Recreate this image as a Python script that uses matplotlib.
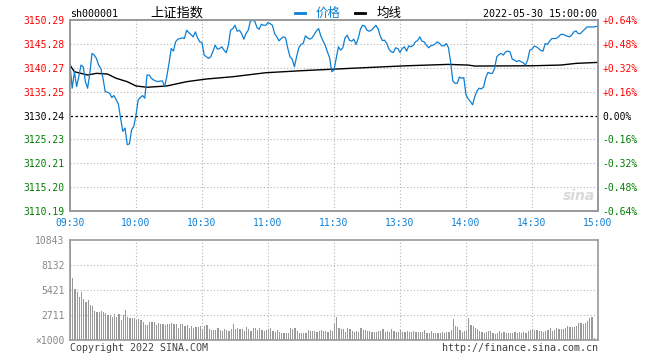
import matplotlib
matplotlib.use("Agg")
from matplotlib import pyplot as plt

prev_close = 3130.24

# one price per minute, 09:30..11:30 then 13:01..15:00
price = [
    3140.83, 3135.96, 3139.44, 3136.31, 3138.39, 3140.83, 3140.48, 3137.35, 3135.96, 3139.09,
    3143.27, 3142.92, 3142.22, 3140.83, 3140.13, 3138.05, 3135.26, 3135.12, 3134.91, 3134.01,
    3134.43, 3133.52, 3132.62, 3129.69, 3126.91, 3127.61, 3124.13, 3124.27, 3127.26, 3127.95,
    3130.39, 3133.52, 3134.01, 3134.43, 3133.87, 3138.74, 3138.74, 3138.05, 3137.70, 3137.49,
    3137.35, 3137.49, 3137.49, 3136.31, 3138.39, 3141.18, 3144.31, 3143.75, 3145.70, 3146.26,
    3146.40, 3146.54, 3146.40, 3148.14, 3147.65, 3147.23, 3146.75, 3147.79, 3146.54, 3145.70,
    3145.56, 3142.92, 3142.57, 3142.22, 3142.57, 3143.75, 3145.01, 3144.17, 3144.31, 3144.66,
    3143.96, 3143.41, 3145.01, 3148.14, 3148.49, 3149.18, 3147.93, 3148.14, 3147.44, 3146.26,
    3147.44, 3148.14, 3150.02, 3150.23, 3150.02, 3148.69, 3148.35, 3149.39, 3149.18, 3149.18,
    3149.74, 3149.53, 3149.18, 3147.44, 3146.75, 3145.91, 3146.40, 3146.75, 3146.54, 3144.31,
    3142.57, 3142.08, 3140.48, 3142.57, 3144.45, 3145.15, 3145.35, 3146.95, 3146.54, 3146.26,
    3146.54, 3147.23, 3148.00, 3148.49, 3146.95, 3145.91, 3145.01, 3143.61, 3142.36, 3139.44,
    3139.79, 3142.22, 3144.66, 3143.96, 3144.45, 3146.54, 3147.09, 3146.05, 3145.84, 3146.26,
    3145.15, 3146.40, 3148.35, 3149.18, 3149.04, 3148.14, 3147.93, 3148.14, 3148.63, 3149.18,
    3148.49, 3146.95, 3145.98, 3146.05, 3145.35, 3144.17, 3143.61, 3143.47, 3144.45, 3144.31,
    3143.47, 3144.31, 3144.66, 3143.75, 3144.87, 3144.66, 3145.01, 3145.70, 3145.98, 3146.75,
    3145.84, 3145.70, 3145.01, 3144.45, 3144.87, 3145.01, 3145.28, 3145.70, 3145.35, 3144.87,
    3144.87, 3145.35, 3144.52, 3141.53, 3137.49, 3137.00, 3137.00, 3138.32, 3138.05, 3138.19,
    3134.57, 3133.73, 3133.17, 3132.48, 3134.22, 3135.40, 3135.96, 3135.82, 3136.24, 3138.19,
    3139.30, 3139.09, 3139.09, 3140.13, 3142.57, 3143.06, 3143.27, 3142.92, 3143.61, 3143.75,
    3143.61, 3142.08, 3141.87, 3141.53, 3141.80, 3141.53, 3141.32, 3140.83, 3141.87, 3143.96,
    3144.17, 3144.80, 3144.66, 3144.31, 3143.89, 3143.75, 3145.35, 3145.15, 3145.84, 3146.40,
    3146.40, 3146.40, 3146.75, 3147.23, 3147.30, 3147.09, 3146.89, 3146.75, 3147.09, 3147.79,
    3148.00, 3147.44, 3147.44, 3147.93, 3148.35, 3148.83, 3148.83, 3148.83, 3148.83, 3148.90,
    3149.04,
]

# average line read at a few minutes
avg_minutes = [0, 2, 8, 12, 17, 21, 26, 30, 35, 44, 53, 62, 74, 89, 105, 118, 133, 153,
               172, 181, 184, 210, 223, 230, 240]
avg_price = [3140.83, 3139.43, 3138.74, 3139.09, 3138.95, 3138.05, 3137.34, 3136.44, 3136.17,
             3136.44, 3137.34, 3137.90, 3138.38, 3139.22, 3139.64, 3139.93, 3140.26, 3140.68,
             3140.97, 3140.83, 3140.62, 3140.68, 3140.83, 3141.18, 3141.39]

# volume, x1000 lots
volume_am = [
    10843,
    6686, 5493, 5240, 4698, 5240, 4445, 4156, 4337, 3795, 3686,
    3144, 3036, 3036, 3144, 3036, 2963, 2711, 2711, 2530, 2819,
    2530, 2819, 2168, 2711, 3253, 2530, 2349, 2349, 2349, 2168,
    2241, 2168, 1988, 1626, 1626, 1952, 1952, 1952, 1626, 1879,
    1735, 1735, 1626, 1735, 1735, 1807, 1735, 1735, 1301, 1735,
    1735, 1518, 1626, 1301, 1518, 1301, 1446, 1446, 1518, 1193,
    1518, 1626, 1193, 1084, 1084, 1084, 1301, 1084, 1012, 1193,
    1084, 1012, 1193, 1735, 1193, 1301, 1193, 1193, 976, 1409,
    1193, 976, 1301, 1301, 1084, 1301, 1084, 1012, 1084, 1193,
    1301, 940, 904, 1084, 831, 795, 795, 723, 795, 1301,
    1193, 1301, 976, 795, 795, 795, 795, 1084, 1012, 1012,
    976, 867, 976, 1084, 940, 940, 867, 1084, 976, 1735,
]
volume_pm = [
    2458, 1337, 1229, 1193, 904, 1337, 1156, 1012, 904, 1012,
    904, 1301, 1084, 1084, 976, 976, 867, 867, 867, 976,
    976, 1193, 904, 976, 867, 1193, 976, 867, 867, 1084,
    904, 867, 976, 867, 867, 976, 867, 867, 867, 867,
    1084, 795, 795, 976, 795, 795, 795, 795, 867, 795,
    867, 867, 1084, 2277, 1518, 1409, 1084, 867, 976, 976,
    2349, 1626, 1518, 1301, 1193, 1012, 867, 795, 904, 976,
    976, 759, 651, 795, 976, 795, 867, 759, 759, 759,
    759, 867, 759, 867, 759, 867, 759, 1012, 1084, 1193,
    1084, 1084, 976, 976, 867, 976, 1084, 1301, 976, 1084,
    1301, 1193, 1193, 1193, 1301, 1518, 1409, 1409, 1409, 1518,
    1843, 1843, 1735, 1843, 2060, 2349, 2458, 217,
]

price_ticks = [3110.19, 3115.20, 3120.21, 3125.23, 3130.24, 3135.25, 3140.27, 3145.28, 3150.29]
pct_labels = ["-0.64%", "-0.48%", "-0.32%", "-0.16%", "0.00%", "+0.16%", "+0.32%", "+0.48%", "+0.64%"]
time_ticks = [0, 30, 60, 90, 120, 150, 180, 210, 240]
time_labels = ["09:30", "10:00", "10:30", "11:00", "11:30", "13:30", "14:00", "14:30", "15:00"]
vol_ticks = [0, 2711, 5421, 8132, 10843]
vol_labels = ["\u00d71000", "2711", "5421", "8132", "10843"]

BLUE = "#0d7fd4"
RED = "#ff0000"
GREEN = "#008000"
GRID = "#b4b4b4"
FRAME = "#999999"
MONO = ["DejaVu Sans Mono", "Noto Sans CJK SC"]

plt.rcParams["font.family"] = MONO

fig = plt.figure(figsize=(6.6, 3.6), dpi=100)
W, H = 660, 360

def box(x0, y0, x1, y1):
    return [x0 / W, 1 - y1 / H, (x1 - x0) / W, (y1 - y0) / H]

ax = fig.add_axes(box(70, 20, 598, 211))
vax = fig.add_axes(box(70, 240, 598, 340))

def label_color(v):
    if abs(v - prev_close) < 0.005:
        return "black"
    return RED if v > prev_close else GREEN

# price panel
minutes = list(range(len(price)))
ax.set_xlim(0, 240)
ax.set_ylim(price_ticks[0], price_ticks[-1])
for t in time_ticks[1:-1]:
    ax.axvline(t, color=GRID, lw=0.8, ls=(0, (1, 2)), zorder=1)
for p in price_ticks[1:-1]:
    if p == prev_close:
        ax.axhline(p, color="black", lw=0.9, ls=(0, (2, 2)), zorder=1)
    else:
        ax.axhline(p, color=GRID, lw=0.8, ls=(0, (1, 2)), zorder=1)
ax.plot(avg_minutes, avg_price, color="black", lw=1.0, zorder=3)
ax.plot(minutes, price, color=BLUE, lw=0.9, zorder=4)

ax.set_yticks(price_ticks)
ax.set_yticklabels([f"{p:.2f}" for p in price_ticks], fontsize=7)
for lbl, p in zip(ax.get_yticklabels(), price_ticks):
    lbl.set_color(label_color(p))
ax.set_xticks(time_ticks)
ax.set_xticklabels(time_labels, fontsize=7, color=BLUE)
ax.tick_params(length=0, pad=4)
ax.tick_params(axis="x", pad=5)

rax = ax.twinx()
rax.set_ylim(price_ticks[0], price_ticks[-1])
rax.set_yticks(price_ticks)
rax.set_yticklabels(pct_labels, fontsize=7)
for lbl, p in zip(rax.get_yticklabels(), price_ticks):
    lbl.set_color(label_color(p))
rax.tick_params(length=0, pad=3)

for a in (ax, rax, vax):
    for s in a.spines.values():
        s.set_color(FRAME)
        s.set_linewidth(1.2)

ax.text(0.995, 0.04, "sina", transform=ax.transAxes, ha="right", va="bottom",
        fontsize=10, fontweight="bold", style="italic", color="#d9d9d9",
        family="DejaVu Sans", zorder=2)

# volume panel
vol = volume_am + volume_pm
vx = list(range(len(vol)))
vax.set_xlim(0, 240)
vax.set_ylim(0, vol_ticks[-1])
for t in time_ticks[1:-1]:
    vax.axvline(t, color=GRID, lw=0.8, ls=(0, (1, 2)), zorder=1)
for v in vol_ticks[1:-1]:
    vax.axhline(v, color=GRID, lw=0.8, ls=(0, (1, 2)), zorder=1)
vax.bar(vx, vol, width=0.5, color="#999999", align="edge", zorder=2)
vax.set_yticks(vol_ticks)
vax.set_yticklabels(vol_labels, fontsize=7, color="#888888")
vax.set_xticks([])
vax.tick_params(length=0, pad=4)

# header and footer texts
fig.text(70 / W, 1 - 14 / H, "sh000001", fontsize=7.2, color="black", va="center")
fig.text(150 / W, 1 - 13 / H, "上证指数", fontsize=9.5, color="black", va="center",
         family=["Noto Sans CJK SC", "DejaVu Sans"])
fig.add_artist(plt.Line2D([295 / W, 305 / W], [1 - 13 / H, 1 - 13 / H], color=BLUE, lw=2))
fig.text(316 / W, 1 - 13 / H, "价格", fontsize=9, color=BLUE, va="center",
         family=["Noto Sans CJK SC", "DejaVu Sans"])
fig.add_artist(plt.Line2D([355 / W, 365 / W], [1 - 13 / H, 1 - 13 / H], color="black", lw=2))
fig.text(377 / W, 1 - 13 / H, "均线", fontsize=9, color="black", va="center",
         family=["Noto Sans CJK SC", "DejaVu Sans"])
fig.text(597 / W, 1 - 14 / H, "2022-05-30 15:00:00", fontsize=7.2, color="black",
         va="center", ha="right")
fig.text(70 / W, 1 - 348 / H, "Copyright 2022 SINA.COM", fontsize=7.2, color="#444444",
         va="center")
fig.text(598 / W, 1 - 348 / H, "http://finance.sina.com.cn", fontsize=7.2, color="#444444",
         va="center", ha="right")

fig.savefig("out.png", dpi=100)
